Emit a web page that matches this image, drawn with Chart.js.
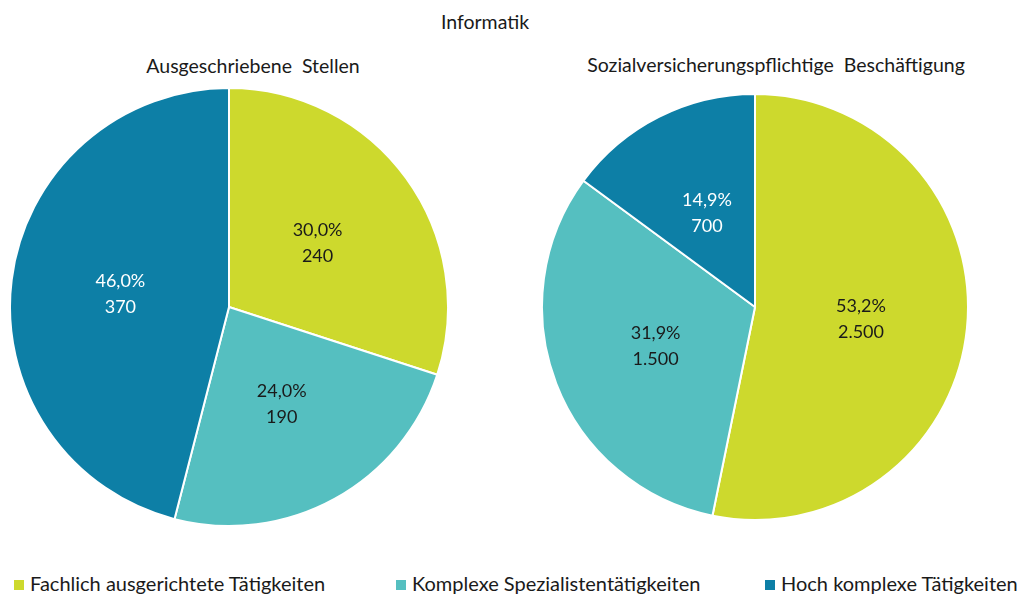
<!DOCTYPE html>
<html>
<head>
<meta charset="utf-8">
<script src="https://cdn.jsdelivr.net/npm/chart.js@4.4.1/dist/chart.umd.min.js"></script>
<style>
  html, body { margin:0; padding:0; background:#fff; }
  body { width:1017px; height:594px; position:relative; overflow:hidden; font-family: Lato, "Noto Sans", sans-serif; color:#1a1a1a; }
  .t { position:absolute; white-space:pre; font-size:19.5px; transform:translateX(-50%); line-height:22px; }
  canvas { position:absolute; }
  .leg { position:absolute; top:572px; font-size:20px; line-height:22px; white-space:pre; }
  .sw { display:inline-block; width:10px; height:10px; margin-right:6px; vertical-align:1px; }
</style>
</head>
<body>
<div class="t" style="left:485px; top:11px;">Informatik</div>
<div class="t" style="left:253px; top:55px;">Ausgeschriebene  Stellen</div>
<div class="t" style="left:776px; top:54px;">Sozialversicherungspflichtige  Beschäftigung</div>
<div style="position:absolute; left:9px; top:87px; width:440px; height:440px;"><canvas id="c1"></canvas></div>
<div style="position:absolute; left:541px; top:93px; width:428px; height:428px;"><canvas id="c2"></canvas></div>
<div id="legend"></div>
<script>
const categories = ["Fachlich ausgerichtete Tätigkeiten", "Komplexe Spezialistentätigkeiten", "Hoch komplexe Tätigkeiten"];
const colors = ["#CDD92D", "#55BFC0", "#0D7FA6"];
const labelColors = ["#1a1a1a", "#1a1a1a", "#ffffff"];
const stellenShare = [30.0, 24.0, 46.0];
const stellenCount = ["240", "190", "370"];
const beschShare = [53.2, 31.9, 14.9];
const beschCount = ["2.500", "1.500", "700"];

const labelPlugin = {
  id: 'sliceLabels',
  afterDatasetsDraw(chart, args, opts) {
    const ctx = chart.ctx;
    const meta = chart.getDatasetMeta(0);
    const ds = chart.data.datasets[0];
    ctx.save();
    ctx.font = '18px Lato, "Noto Sans", sans-serif';
    ctx.textAlign = 'center';
    ctx.textBaseline = 'middle';
    meta.data.forEach((arc, i) => {
      const p = arc.tooltipPosition();
      ctx.fillStyle = labelColors[i];
      ctx.fillText(ds.data[i].toFixed(1).replace('.', ',') + '%', p.x, p.y - 12);
      ctx.fillText(ds.counts[i], p.x, p.y + 14);
    });
    ctx.restore();
  }
};

function makePie(id, shares, counts) {
  return new Chart(document.getElementById(id), {
    type: 'pie',
    data: {
      labels: categories,
      datasets: [{ data: shares, counts: counts, backgroundColor: colors, borderColor: '#ffffff', borderWidth: 2 }]
    },
    options: {
      responsive: true, maintainAspectRatio: false, animation: false,
      layout: { padding: 0 },
      plugins: { legend: { display: false }, tooltip: { enabled: false }, title: { display: false } }
    },
    plugins: [labelPlugin]
  });
}
makePie('c1', stellenShare, stellenCount);
makePie('c2', beschShare, beschCount);

const legPos = [14, 396, 765];
const leg = document.getElementById('legend');
categories.forEach((c, i) => {
  const d = document.createElement('div');
  d.className = 'leg';
  d.style.left = legPos[i] + 'px';
  d.innerHTML = '<span class="sw" style="background:' + colors[i] + '"></span>' + c;
  leg.appendChild(d);
});
</script>
</body>
</html>
